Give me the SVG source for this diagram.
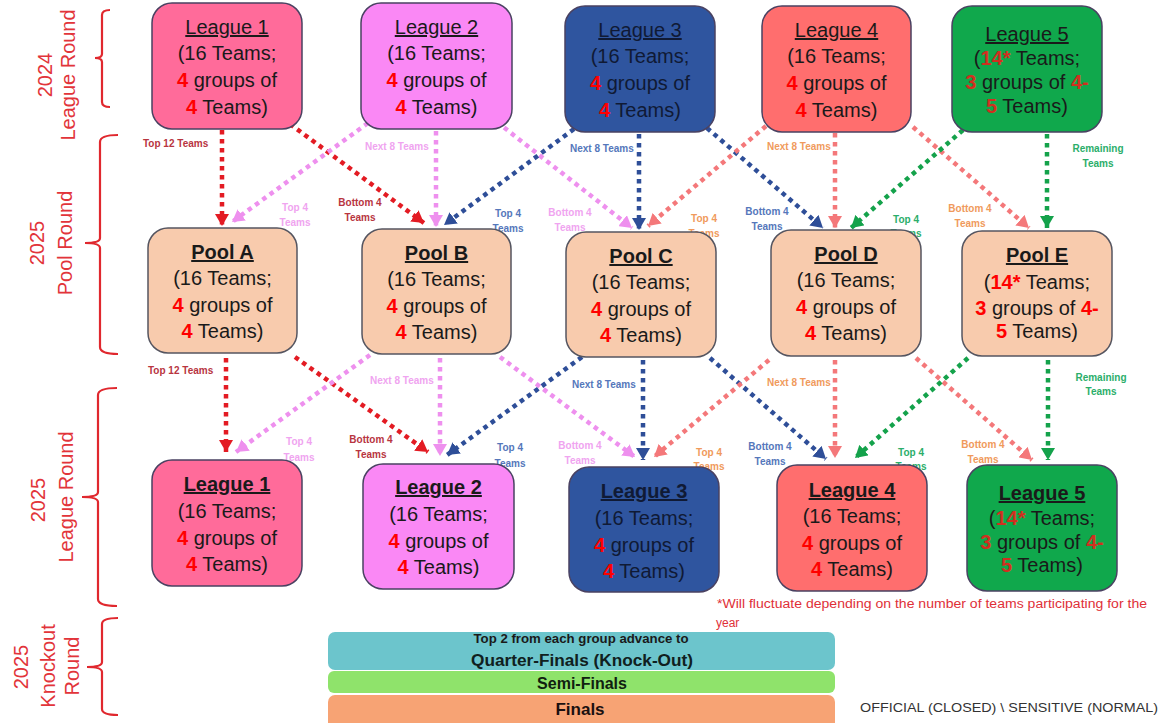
<svg xmlns="http://www.w3.org/2000/svg" width="1169" height="723" viewBox="0 0 1169 723">
<style>
  text { font-family: "Liberation Sans", Arial, sans-serif; }
  .lg { stroke: #4a4262; stroke-width: 1.5; }
  .pool { fill: #F8CBAD; stroke: #555560; stroke-width: 1.5; }
  .nt { font-size: 20px; fill: #1a1a1a; text-anchor: middle; }
  .nt3 { font-size: 20px; fill: #101a35; text-anchor: middle; }
  .ttl { text-decoration: underline; }
  .b { font-weight: bold; }
  .r { fill: #FF0000; font-weight: bold; }
  .r5 { fill: #D0301F; font-weight: bold; }
  .side { font-size: 20px; fill: #E2343A; text-anchor: middle; }
  .brace { fill: none; stroke: #E0282E; stroke-width: 2.2; }
  .cl { fill: none; stroke-width: 4.5; stroke-dasharray: 4.5 4.5; }
  .lbl { font-size: 10px; font-weight: bold; }
  .lm { font-size: 10px; font-weight: bold; text-anchor: middle; }
  .c1 { stroke: #E31B23; } .c2 { stroke: #EE90EE; } .c3 { stroke: #2E4E98; } .c4 { stroke: #F4787A; } .c5 { stroke: #14A24B; }
  .t1 { fill: #B8353F; } .t2 { fill: #F0A4F0; } .t3 { fill: #5577BB; } .t4 { fill: #F09A5C; } .t5 { fill: #2BAE6A; }
</style>
<defs>
  <marker id="a1" viewBox="0 0 12 14" refX="12" refY="7" markerWidth="12" markerHeight="14" orient="auto" markerUnits="userSpaceOnUse"><path d="M0,0 L12,7 L0,14 z" fill="#E31B23"/></marker>
  <marker id="a2" viewBox="0 0 12 14" refX="12" refY="7" markerWidth="12" markerHeight="14" orient="auto" markerUnits="userSpaceOnUse"><path d="M0,0 L12,7 L0,14 z" fill="#EE90EE"/></marker>
  <marker id="a3" viewBox="0 0 12 14" refX="12" refY="7" markerWidth="12" markerHeight="14" orient="auto" markerUnits="userSpaceOnUse"><path d="M0,0 L12,7 L0,14 z" fill="#2E4E98"/></marker>
  <marker id="a4" viewBox="0 0 12 14" refX="12" refY="7" markerWidth="12" markerHeight="14" orient="auto" markerUnits="userSpaceOnUse"><path d="M0,0 L12,7 L0,14 z" fill="#F4787A"/></marker>
  <marker id="a5" viewBox="0 0 12 14" refX="12" refY="7" markerWidth="12" markerHeight="14" orient="auto" markerUnits="userSpaceOnUse"><path d="M0,0 L12,7 L0,14 z" fill="#14A24B"/></marker>
</defs>
<rect width="1169" height="723" fill="#ffffff"/>

<!-- Side labels and braces -->
<g id="side-labels">
  <path class="brace" d="M110,10 Q102,10 102,15 L102,54 Q102,58 95,58 Q102,58 102,62 L102,102 Q102,107 110,107"/>
  <text class="side" transform="translate(52,75) rotate(-90)">2024</text>
  <text class="side" transform="translate(75,75) rotate(-90)">League Round</text>

  <path class="brace" d="M118,135 Q100,135 100,142 L100,238 Q100,243 85,243 Q100,243 100,248 L100,347 Q100,354 118,354"/>
  <text class="side" transform="translate(44,243) rotate(-90)">2025</text>
  <text class="side" transform="translate(72,243) rotate(-90)">Pool Round</text>

  <path class="brace" d="M117,388 Q98,388 98,395 L98,492 Q98,497 82,497 Q98,497 98,502 L98,599 Q98,606 117,606"/>
  <text class="side" transform="translate(45,500) rotate(-90)">2025</text>
  <text class="side" transform="translate(73,497) rotate(-90)">League Round</text>

  <path class="brace" d="M118,618 Q102,618 102,624 L102,662 Q102,667 87,667 Q102,667 102,672 L102,709 Q102,715 118,715"/>
  <text class="side" transform="translate(28,667) rotate(-90)">2025</text>
  <text class="side" transform="translate(55,666) rotate(-90)">Knockout</text>
  <text class="side" transform="translate(79,666) rotate(-90)">Round</text>
</g>

<!-- Connectors -->
<g id="connectors">
  <!-- 2024 leagues to pools -->
  <line class="cl c1" x1="222" y1="130" x2="222" y2="226" marker-end="url(#a1)"/>
  <line class="cl c1" x1="290" y1="124" x2="424" y2="223" marker-end="url(#a1)"/>
  <line class="cl c2" x1="436" y1="131" x2="436" y2="227" marker-end="url(#a2)"/>
  <line class="cl c2" x1="368" y1="123" x2="232" y2="222" marker-end="url(#a2)"/>
  <line class="cl c2" x1="497" y1="122" x2="632" y2="228" marker-end="url(#a2)"/>
  <line class="cl c3" x1="639" y1="134" x2="639" y2="230" marker-end="url(#a3)"/>
  <line class="cl c3" x1="574" y1="129" x2="444" y2="225" marker-end="url(#a3)"/>
  <line class="cl c3" x1="707" y1="128" x2="823" y2="228" marker-end="url(#a3)"/>
  <line class="cl c4" x1="835" y1="133" x2="835" y2="228" marker-end="url(#a4)"/>
  <line class="cl c4" x1="766" y1="126" x2="648" y2="226" marker-end="url(#a4)"/>
  <line class="cl c4" x1="913" y1="127" x2="1029" y2="228" marker-end="url(#a4)"/>
  <line class="cl c5" x1="1047" y1="134" x2="1047" y2="228" marker-end="url(#a5)"/>
  <line class="cl c5" x1="963" y1="130" x2="851" y2="228" marker-end="url(#a5)"/>

  <!-- pools to 2025 leagues -->
  <line class="cl c1" x1="226" y1="358" x2="226" y2="452" marker-end="url(#a1)"/>
  <line class="cl c1" x1="295" y1="357" x2="428" y2="452" marker-end="url(#a1)"/>
  <line class="cl c2" x1="440" y1="358" x2="440" y2="456" marker-end="url(#a2)"/>
  <line class="cl c2" x1="370" y1="355" x2="236" y2="452" marker-end="url(#a2)"/>
  <line class="cl c2" x1="500" y1="357" x2="635" y2="457" marker-end="url(#a2)"/>
  <line class="cl c3" x1="643" y1="360" x2="643" y2="460" marker-end="url(#a3)"/>
  <line class="cl c3" x1="582" y1="357" x2="447" y2="455" marker-end="url(#a3)"/>
  <line class="cl c3" x1="710" y1="358" x2="826" y2="459" marker-end="url(#a3)"/>
  <line class="cl c4" x1="835" y1="360" x2="835" y2="458" marker-end="url(#a4)"/>
  <line class="cl c4" x1="769" y1="360" x2="654" y2="457" marker-end="url(#a4)"/>
  <line class="cl c4" x1="916" y1="358" x2="1032" y2="460" marker-end="url(#a4)"/>
  <line class="cl c5" x1="1048" y1="360" x2="1048" y2="460" marker-end="url(#a5)"/>
  <line class="cl c5" x1="968" y1="358" x2="855" y2="458" marker-end="url(#a5)"/>

  <!-- labels top section -->
  <text class="lbl t1" x="143" y="147">Top 12 Teams</text>
  <text class="lm t1" x="360" y="206">Bottom 4</text><text class="lm t1" x="360" y="221">Teams</text>
  <text class="lbl t2" x="365" y="150">Next 8 Teams</text>
  <text class="lm t2" x="295" y="211">Top 4</text><text class="lm t2" x="295" y="226">Teams</text>
  <text class="lm t2" x="570" y="216">Bottom 4</text><text class="lm t2" x="570" y="231">Teams</text>
  <text class="lbl t3" x="570" y="152">Next 8 Teams</text>
  <text class="lm t3" x="508" y="217">Top 4</text><text class="lm t3" x="508" y="232">Teams</text>
  <text class="lm t3" x="767" y="215">Bottom 4</text><text class="lm t3" x="767" y="230">Teams</text>
  <text class="lbl t4" x="767" y="150">Next 8 Teams</text>
  <text class="lm t4" x="704" y="222">Top 4</text><text class="lm t4" x="704" y="237">Teams</text>
  <text class="lm t4" x="970" y="212">Bottom 4</text><text class="lm t4" x="970" y="227">Teams</text>
  <text class="lm t5" x="1098" y="152">Remaining</text><text class="lm t5" x="1098" y="167">Teams</text>
  <text class="lm t5" x="906" y="223">Top 4</text><text class="lm t5" x="906" y="237">Teams</text>

  <!-- labels bottom section -->
  <text class="lbl t1" x="148" y="374">Top 12 Teams</text>
  <text class="lm t1" x="371" y="443">Bottom 4</text><text class="lm t1" x="371" y="458">Teams</text>
  <text class="lbl t2" x="370" y="384">Next 8 Teams</text>
  <text class="lm t2" x="299" y="445">Top 4</text><text class="lm t2" x="299" y="461">Teams</text>
  <text class="lm t2" x="580" y="449">Bottom 4</text><text class="lm t2" x="580" y="464">Teams</text>
  <text class="lbl t3" x="572" y="388">Next 8 Teams</text>
  <text class="lm t3" x="510" y="451">Top 4</text><text class="lm t3" x="510" y="467">Teams</text>
  <text class="lm t3" x="770" y="450">Bottom 4</text><text class="lm t3" x="770" y="465">Teams</text>
  <text class="lbl t4" x="767" y="386">Next 8 Teams</text>
  <text class="lm t4" x="709" y="456">Top 4</text><text class="lm t4" x="709" y="470">Teams</text>
  <text class="lm t4" x="983" y="448">Bottom 4</text><text class="lm t4" x="983" y="463">Teams</text>
  <text class="lm t5" x="1101" y="381">Remaining</text><text class="lm t5" x="1101" y="395">Teams</text>
  <text class="lm t5" x="911" y="456">Top 4</text><text class="lm t5" x="911" y="470">Teams</text>
</g>

<!-- 2024 League nodes -->
<g id="league1-2024">
  <rect class="lg" x="152" y="3" width="150" height="126" rx="20" fill="#FF6B9A"/>
  <text class="nt" x="227" y="34"><tspan class="ttl">League 1</tspan></text>
  <text class="nt" x="227" y="60">(16 Teams;</text>
  <text class="nt" x="227" y="87"><tspan class="r">4</tspan> groups of</text>
  <text class="nt" x="227" y="114"><tspan class="r">4</tspan> Teams)</text>
</g>
<g id="league2-2024">
  <rect class="lg" x="361" y="3" width="151" height="126" rx="20" fill="#FA88F5"/>
  <text class="nt" x="436.5" y="34"><tspan class="ttl">League 2</tspan></text>
  <text class="nt" x="436.5" y="60">(16 Teams;</text>
  <text class="nt" x="436.5" y="87"><tspan class="r">4</tspan> groups of</text>
  <text class="nt" x="436.5" y="114"><tspan class="r">4</tspan> Teams)</text>
</g>
<g id="league3-2024">
  <rect class="lg" x="565" y="6" width="150" height="126" rx="20" fill="#2F559F"/>
  <text class="nt3" x="640" y="37"><tspan class="ttl">League 3</tspan></text>
  <text class="nt3" x="640" y="63">(16 Teams;</text>
  <text class="nt3" x="640" y="90"><tspan class="r">4</tspan> groups of</text>
  <text class="nt3" x="640" y="117"><tspan class="r">4</tspan> Teams)</text>
</g>
<g id="league4-2024">
  <rect class="lg" x="762" y="6" width="149" height="126" rx="20" fill="#FF6E6E"/>
  <text class="nt" x="836.5" y="37"><tspan class="ttl">League 4</tspan></text>
  <text class="nt" x="836.5" y="63">(16 Teams;</text>
  <text class="nt" x="836.5" y="90"><tspan class="r">4</tspan> groups of</text>
  <text class="nt" x="836.5" y="117"><tspan class="r">4</tspan> Teams)</text>
</g>
<g id="league5-2024">
  <rect class="lg" x="952" y="6" width="150" height="126" rx="20" fill="#10A84C"/>
  <text class="nt" x="1027" y="41"><tspan class="ttl">League 5</tspan></text>
  <text class="nt" x="1027" y="65">(<tspan class="r5">14*</tspan> Teams;</text>
  <text class="nt" x="1027" y="89"><tspan class="r5">3</tspan> groups of <tspan class="r5">4-</tspan></text>
  <text class="nt" x="1027" y="113"><tspan class="r5">5</tspan> Teams)</text>
</g>

<!-- Pools -->
<g id="pool-a">
  <rect class="pool" x="148" y="228" width="149" height="125" rx="20"/>
  <text class="nt b" x="222.5" y="259"><tspan class="ttl">Pool A</tspan></text>
  <text class="nt" x="222.5" y="285">(16 Teams;</text>
  <text class="nt" x="222.5" y="312"><tspan class="r">4</tspan> groups of</text>
  <text class="nt" x="222.5" y="338"><tspan class="r">4</tspan> Teams)</text>
</g>
<g id="pool-b">
  <rect class="pool" x="362" y="229" width="149" height="125" rx="20"/>
  <text class="nt b" x="436.5" y="260"><tspan class="ttl">Pool B</tspan></text>
  <text class="nt" x="436.5" y="286">(16 Teams;</text>
  <text class="nt" x="436.5" y="313"><tspan class="r">4</tspan> groups of</text>
  <text class="nt" x="436.5" y="339"><tspan class="r">4</tspan> Teams)</text>
</g>
<g id="pool-c">
  <rect class="pool" x="566" y="232" width="150" height="125" rx="20"/>
  <text class="nt b" x="641" y="263"><tspan class="ttl">Pool C</tspan></text>
  <text class="nt" x="641" y="289">(16 Teams;</text>
  <text class="nt" x="641" y="316"><tspan class="r">4</tspan> groups of</text>
  <text class="nt" x="641" y="342"><tspan class="r">4</tspan> Teams)</text>
</g>
<g id="pool-d">
  <rect class="pool" x="771" y="230" width="150" height="126" rx="20"/>
  <text class="nt b" x="846" y="261"><tspan class="ttl">Pool D</tspan></text>
  <text class="nt" x="846" y="287">(16 Teams;</text>
  <text class="nt" x="846" y="314"><tspan class="r">4</tspan> groups of</text>
  <text class="nt" x="846" y="340"><tspan class="r">4</tspan> Teams)</text>
</g>
<g id="pool-e">
  <rect class="pool" x="962" y="231" width="150" height="125" rx="20"/>
  <text class="nt b" x="1037" y="262"><tspan class="ttl">Pool E</tspan></text>
  <text class="nt" x="1037" y="289">(<tspan class="r">14*</tspan> Teams;</text>
  <text class="nt" x="1037" y="315"><tspan class="r">3</tspan> groups of <tspan class="r">4-</tspan></text>
  <text class="nt" x="1037" y="338"><tspan class="r">5</tspan> Teams)</text>
</g>

<!-- 2025 League nodes -->
<g id="league1-2025">
  <rect class="lg" x="152" y="460" width="150" height="126" rx="20" fill="#FF6B9A"/>
  <text class="nt b" x="227" y="491"><tspan class="ttl">League 1</tspan></text>
  <text class="nt" x="227" y="518">(16 Teams;</text>
  <text class="nt" x="227" y="545"><tspan class="r">4</tspan> groups of</text>
  <text class="nt" x="227" y="571"><tspan class="r">4</tspan> Teams)</text>
</g>
<g id="league2-2025">
  <rect class="lg" x="363" y="464" width="151" height="125" rx="20" fill="#FA88F5"/>
  <text class="nt b" x="438.5" y="494"><tspan class="ttl">League 2</tspan></text>
  <text class="nt" x="438.5" y="521">(16 Teams;</text>
  <text class="nt" x="438.5" y="548"><tspan class="r">4</tspan> groups of</text>
  <text class="nt" x="438.5" y="574"><tspan class="r">4</tspan> Teams)</text>
</g>
<g id="league3-2025">
  <rect class="lg" x="569" y="467" width="150" height="125" rx="20" fill="#2F559F"/>
  <text class="nt3 b" x="644" y="498"><tspan class="ttl">League 3</tspan></text>
  <text class="nt3" x="644" y="525">(16 Teams;</text>
  <text class="nt3" x="644" y="552"><tspan class="r">4</tspan> groups of</text>
  <text class="nt3" x="644" y="578"><tspan class="r">4</tspan> Teams)</text>
</g>
<g id="league4-2025">
  <rect class="lg" x="777" y="465" width="150" height="126" rx="20" fill="#FF6E6E"/>
  <text class="nt b" x="852" y="497"><tspan class="ttl">League 4</tspan></text>
  <text class="nt" x="852" y="523">(16 Teams;</text>
  <text class="nt" x="852" y="550"><tspan class="r">4</tspan> groups of</text>
  <text class="nt" x="852" y="576"><tspan class="r">4</tspan> Teams)</text>
</g>
<g id="league5-2025">
  <rect class="lg" x="967" y="465" width="150" height="126" rx="20" fill="#10A84C"/>
  <text class="nt b" x="1042" y="500"><tspan class="ttl">League 5</tspan></text>
  <text class="nt" x="1042" y="525">(<tspan class="r5">14*</tspan> Teams;</text>
  <text class="nt" x="1042" y="549"><tspan class="r5">3</tspan> groups of <tspan class="r5">4-</tspan></text>
  <text class="nt" x="1042" y="572"><tspan class="r5">5</tspan> Teams)</text>
</g>

<!-- Footnote -->
<g id="footnote">
  <text x="717" y="608" font-size="12" fill="#E03038" textLength="430" lengthAdjust="spacingAndGlyphs">*Will fluctuate depending on the number of teams participating for the</text>
  <text x="716" y="627" font-size="12" fill="#E03038">year</text>
</g>

<!-- Knockout bars -->
<g id="quarter-finals">
  <rect x="328" y="632" width="507" height="38" rx="7" fill="#6CC5CC"/>
  <text x="581" y="643" font-size="12" font-weight="bold" fill="#1a1a1a" text-anchor="middle" textLength="215" lengthAdjust="spacingAndGlyphs">Top 2 from each group advance to</text>
  <text x="582" y="666" font-size="16" font-weight="bold" fill="#102020" text-anchor="middle" textLength="222" lengthAdjust="spacingAndGlyphs">Quarter-Finals (Knock-Out)</text>
</g>
<g id="semi-finals">
  <rect x="328" y="671" width="507" height="22" rx="6" fill="#8FE36B"/>
  <text x="582" y="689" font-size="16" font-weight="bold" fill="#102010" text-anchor="middle">Semi-Finals</text>
</g>
<g id="finals">
  <rect x="328" y="695" width="507" height="34" rx="7" fill="#F7A374"/>
  <text x="580" y="715" font-size="17" font-weight="bold" fill="#1a1010" text-anchor="middle">Finals</text>
</g>

<text x="860" y="712" font-size="13.5" fill="#333333" textLength="298" lengthAdjust="spacingAndGlyphs">OFFICIAL (CLOSED) \ SENSITIVE (NORMAL)</text>
</svg>
